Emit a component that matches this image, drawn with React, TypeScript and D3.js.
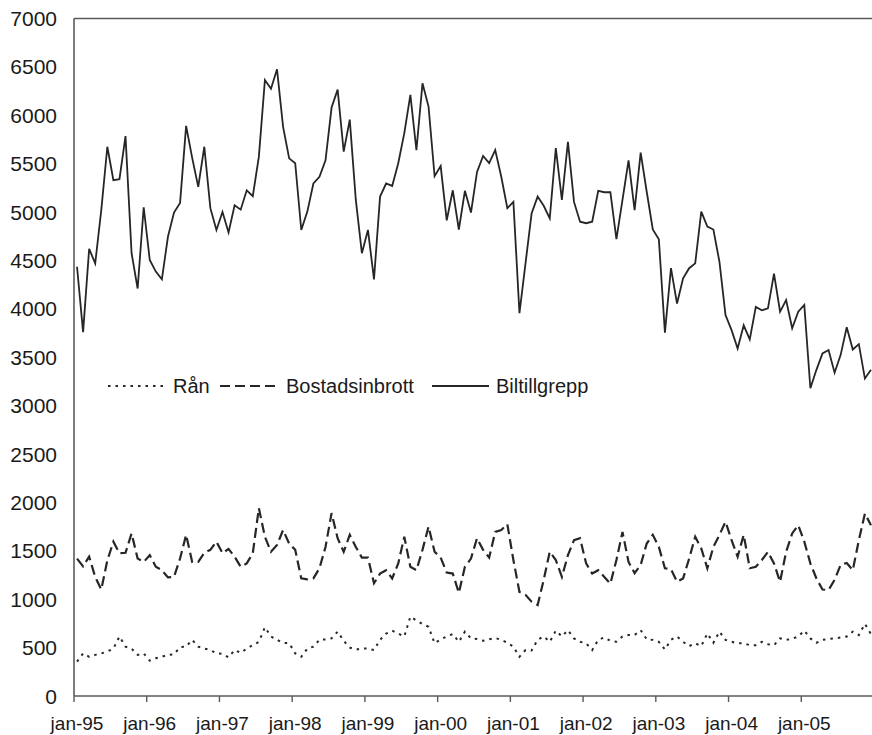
import React from 'react';
import * as d3 from 'd3';

// Categories: monthly, jan-95 .. dec-05
const months: Date[] = d3.timeMonths(new Date(1995, 0, 1), new Date(2006, 0, 1));
const monthKeys: string[] = months.map((d) => d3.timeFormat('%Y-%m')(d));

const xTickLabels = ['jan-95', 'jan-96', 'jan-97', 'jan-98', 'jan-99', 'jan-00', 'jan-01', 'jan-02', 'jan-03', 'jan-04', 'jan-05'];
const yTicks = [0, 500, 1000, 1500, 2000, 2500, 3000, 3500, 4000, 4500, 5000, 5500, 6000, 6500, 7000];

const ran = [
  355, 440, 405, 425, 440, 460, 490, 615, 510, 490, 425, 440,
  365, 390, 405, 425, 430, 505, 510, 580, 510, 490, 475, 440,
  435, 400, 475, 445, 490, 525, 560, 710, 615, 580, 550, 545,
  440, 405, 490, 510, 580, 585, 595, 665, 570, 500, 480, 490,
  490, 475, 580, 645, 675, 645, 615, 820, 780, 745, 715, 545,
  585, 615, 640, 560, 665, 595, 590, 570, 585, 600, 580, 550,
  510, 405, 475, 470, 580, 615, 560, 675, 615, 680, 595, 560,
  545, 475, 580, 605, 570, 560, 615, 630, 630, 680, 585, 580,
  560, 480, 580, 615, 560, 515, 545, 515, 645, 550, 665, 580,
  560, 545, 545, 525, 525, 560, 535, 525, 595, 580, 590, 615,
  675, 595, 550, 580, 590, 595, 605, 615, 665, 630, 745, 640,
];

const bostadsinbrott = [
  1420, 1340, 1440, 1230, 1100, 1400, 1595, 1475, 1480, 1680, 1420, 1385,
  1455, 1335, 1300, 1225, 1230, 1420, 1665, 1385, 1385, 1480, 1510, 1595,
  1475, 1520, 1440, 1335, 1370, 1475, 1940, 1645, 1490, 1560, 1715, 1575,
  1510, 1215, 1205, 1215, 1320, 1540, 1890, 1630, 1490, 1665, 1540, 1430,
  1430, 1165, 1265, 1300, 1215, 1370, 1645, 1335, 1300, 1510, 1750, 1490,
  1430, 1275, 1265, 1065, 1335, 1420, 1630, 1510, 1430, 1695, 1715, 1775,
  1405, 1075, 1045, 975, 940, 1200, 1490, 1405, 1230, 1455, 1610, 1630,
  1370, 1265, 1300, 1230, 1160, 1405, 1695, 1385, 1270, 1355, 1575, 1665,
  1540, 1320, 1310, 1180, 1215, 1420, 1645, 1525, 1320, 1540, 1665, 1800,
  1610, 1440, 1665, 1320, 1335, 1405, 1490, 1370, 1180, 1490, 1680, 1765,
  1595, 1370, 1215, 1100, 1095, 1200, 1355, 1375, 1300, 1610, 1885, 1765,
];

const biltillgrepp = [
  4435, 3760, 4620, 4470, 5020, 5675, 5330, 5340, 5785, 4575, 4210, 5050,
  4505, 4385, 4305, 4745, 4995, 5095, 5890, 5560, 5260, 5675, 5040, 4815,
  5000, 4790, 5070, 5025, 5225, 5165, 5570, 6365, 6275, 6475, 5880, 5555,
  5505, 4815, 5005, 5295, 5365, 5535, 6080, 6265, 5625, 5955, 5125, 4575,
  4815, 4305, 5160, 5295, 5270, 5505, 5815, 6210, 5640, 6330, 6090, 5370,
  5475, 4915, 5225, 4820, 5220, 4995, 5415, 5580, 5505, 5640, 5365, 5040,
  5105, 3955, 4470, 4985, 5160, 5065, 4935, 5660, 5125, 5725, 5105, 4900,
  4885, 4900, 5220, 5205, 5205, 4720, 5125, 5535, 5020, 5615, 5210, 4820,
  4720, 3755, 4420, 4055, 4315, 4420, 4470, 5005, 4850, 4820, 4485, 3935,
  3780, 3590, 3830, 3685, 4020, 3985, 4005, 4365, 3970, 4090, 3800, 3970,
  4040, 3180, 3370, 3540, 3575, 3340, 3525, 3810, 3580, 3635, 3280, 3370,
];

const seriesNames = ['Rån', 'Bostadsinbrott', 'Biltillgrepp'];

const W = 872;
const H = 735;
const FONT = '"Liberation Sans", Arial, sans-serif';
const LINE_COLOR = '#262626';
const AXIS_COLOR = '#5a5a5a';

export default function App() {
  const plotLeft = 74;
  const plotRight = 874;
  const plotTop = 18.5;
  const plotBottom = 696;

  const x = d3.scaleBand<string>().domain(monthKeys).range([plotLeft, plotRight]).paddingInner(0).paddingOuter(0);
  const y = d3.scaleLinear().domain([0, 7000]).range([plotBottom, plotTop]);
  const cx = (i: number) => (x(monthKeys[i]) as number) + x.bandwidth() / 2;

  const line = d3
    .line<number>()
    .x((_, i) => cx(i))
    .y((d) => y(d));

  const tickIdx = xTickLabels.map((_, k) => k * 12);

  const legendY = 386;
  const legend = [
    { name: seriesNames[0], x1: 108, x2: 166, tx: 173, dash: '2.5,5', w: 2 },
    { name: seriesNames[1], x1: 220, x2: 280, tx: 286, dash: '10,5', w: 2.2 },
    { name: seriesNames[2], x1: 432, x2: 489, tx: 496, dash: undefined as string | undefined, w: 1.8 },
  ];

  return (
    <svg
      width={W}
      height={H}
      style={{ position: 'absolute', left: 0, top: 0, background: '#fff' }}
      fontFamily={FONT}
    >
      <rect x={0} y={0} width={W} height={H} fill="#ffffff" />
      {/* Plot frame */}
      <line x1={plotLeft} x2={plotRight} y1={plotTop} y2={plotTop} stroke={AXIS_COLOR} strokeWidth={1.6} />
      <line x1={plotRight} x2={plotRight} y1={plotTop} y2={plotBottom} stroke={AXIS_COLOR} strokeWidth={1.6} />
      <line x1={plotLeft} x2={plotLeft} y1={plotTop} y2={plotBottom} stroke={AXIS_COLOR} strokeWidth={1.6} />
      <line x1={plotLeft} x2={plotRight} y1={plotBottom} y2={plotBottom} stroke={AXIS_COLOR} strokeWidth={1.6} />

      {/* Y tick labels */}
      {yTicks.map((t) => (
        <text key={t} x={57} y={y(t)} dy="0.36em" textAnchor="end" fontSize={21} fill="#1a1a1a">
          {t}
        </text>
      ))}

      {/* X ticks & labels */}
      {tickIdx.map((i, k) => (
        <g key={k}>
          <line
            x1={x(monthKeys[i]) as number}
            x2={x(monthKeys[i]) as number}
            y1={plotBottom}
            y2={plotBottom + 6}
            stroke={AXIS_COLOR}
            strokeWidth={1.4}
          />
          <text x={cx(i)} y={730} textAnchor="middle" fontSize={19} fill="#1a1a1a">
            {xTickLabels[k]}
          </text>
        </g>
      ))}

      {/* Series */}
      <path d={line(biltillgrepp) || ''} fill="none" stroke={LINE_COLOR} strokeWidth={1.8} strokeLinejoin="miter" />
      <path d={line(bostadsinbrott) || ''} fill="none" stroke={LINE_COLOR} strokeWidth={2.2} strokeDasharray="10,5" />
      <path d={line(ran) || ''} fill="none" stroke={LINE_COLOR} strokeWidth={2} strokeDasharray="2.5,5" />

      {/* Legend */}
      {legend.map((l) => (
        <g key={l.name}>
          <line x1={l.x1} x2={l.x2} y1={legendY} y2={legendY} stroke={LINE_COLOR} strokeWidth={l.w} strokeDasharray={l.dash} />
          <text x={l.tx} y={legendY} dy="0.36em" fontSize={20} fill="#1a1a1a">
            {l.name}
          </text>
        </g>
      ))}
    </svg>
  );
}
